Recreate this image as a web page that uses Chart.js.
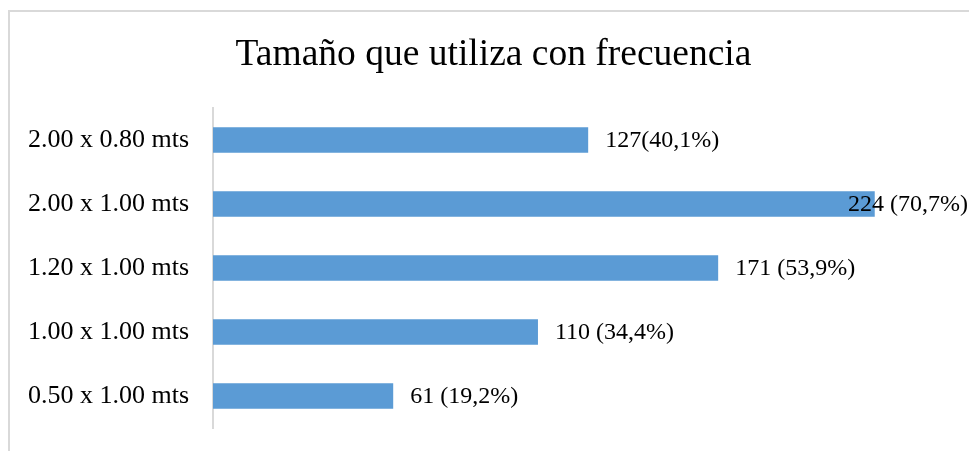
<!DOCTYPE html>
<html>
<head>
<meta charset="utf-8">
<script src="https://cdn.jsdelivr.net/npm/chart.js@4"></script>
<style>
  html, body { margin: 0; padding: 0; background: #fff; }
  #wrap { position: relative; width: 969px; height: 451px; overflow: hidden; }
  canvas { display: block; }
</style>
</head>
<body>
<div id="wrap"><canvas id="chart" width="987" height="451"></canvas></div>
<script>
const categories = ['2.00 x 0.80 mts', '2.00 x 1.00 mts', '1.20 x 1.00 mts', '1.00 x 1.00 mts', '0.50 x 1.00 mts'];
const counts = [127, 224, 171, 110, 61];
const valueLabels = ['127(40,1%)', '224 (70,7%)', '171 (53,9%)', '110 (34,4%)', '61 (19,2%)'];

const serif = '"Liberation Serif", "Times New Roman", serif';
const visibleWidth = 969;

// light grey frame like the office chart border
const frame = {
    id: 'frame',
    beforeDraw(chart) {
        const ctx = chart.ctx;
        ctx.save();
        ctx.fillStyle = '#fff';
        ctx.fillRect(0, 0, chart.width, chart.height);
        ctx.strokeStyle = '#d9d9d9';
        ctx.lineWidth = 2;
        ctx.strokeRect(9, 11, chart.width + 20, chart.height + 20);
        ctx.restore();
    }
};

const barValues = {
    id: 'barValues',
    afterDatasetsDraw(chart) {
        const ctx = chart.ctx;
        const meta = chart.getDatasetMeta(0);
        ctx.save();
        ctx.font = '24px ' + serif;
        ctx.fillStyle = '#000';
        ctx.textBaseline = 'middle';
        ctx.textAlign = 'left';
        meta.data.forEach((bar, i) => {
            const txt = valueLabels[i];
            const w = ctx.measureText(txt).width;
            let x = bar.x + 17;
            if (x + w > visibleWidth - 1) x = visibleWidth - 1 - w;
            ctx.fillText(txt, x, bar.y + 1);
        });
        ctx.restore();
    }
};

new Chart(document.getElementById('chart').getContext('2d'), {
    type: 'bar',
    data: {
        labels: categories,
        datasets: [{
            data: counts,
            backgroundColor: '#5b9bd5',
            borderWidth: 0,
            barPercentage: 0.4,
            categoryPercentage: 1
        }]
    },
    options: {
        indexAxis: 'y',
        responsive: false,
        animation: false,
        layout: { padding: { top: 0, right: 0, bottom: 23, left: 0 } },
        plugins: {
            legend: { display: false },
            tooltip: { enabled: false },
            title: {
                display: true,
                text: 'Tamaño que utiliza con frecuencia',
                color: '#000',
                font: { family: serif, size: 37.5, weight: 'normal', lineHeight: 1.2 },
                padding: { top: 33, bottom: 30 }
            }
        },
        scales: {
            x: { display: false, min: 0, max: 262 },
            y: {
                afterFit(s) { s.width = 213; s.paddingTop = 0; s.paddingBottom = 0; },
                grid: { display: false, drawTicks: false },
                border: { display: true, color: '#d9d9d9', width: 2 },
                ticks: { color: '#000', padding: 24, font: { family: serif, size: 26 } }
            }
        }
    },
    plugins: [frame, barValues]
});
</script>
</body>
</html>
